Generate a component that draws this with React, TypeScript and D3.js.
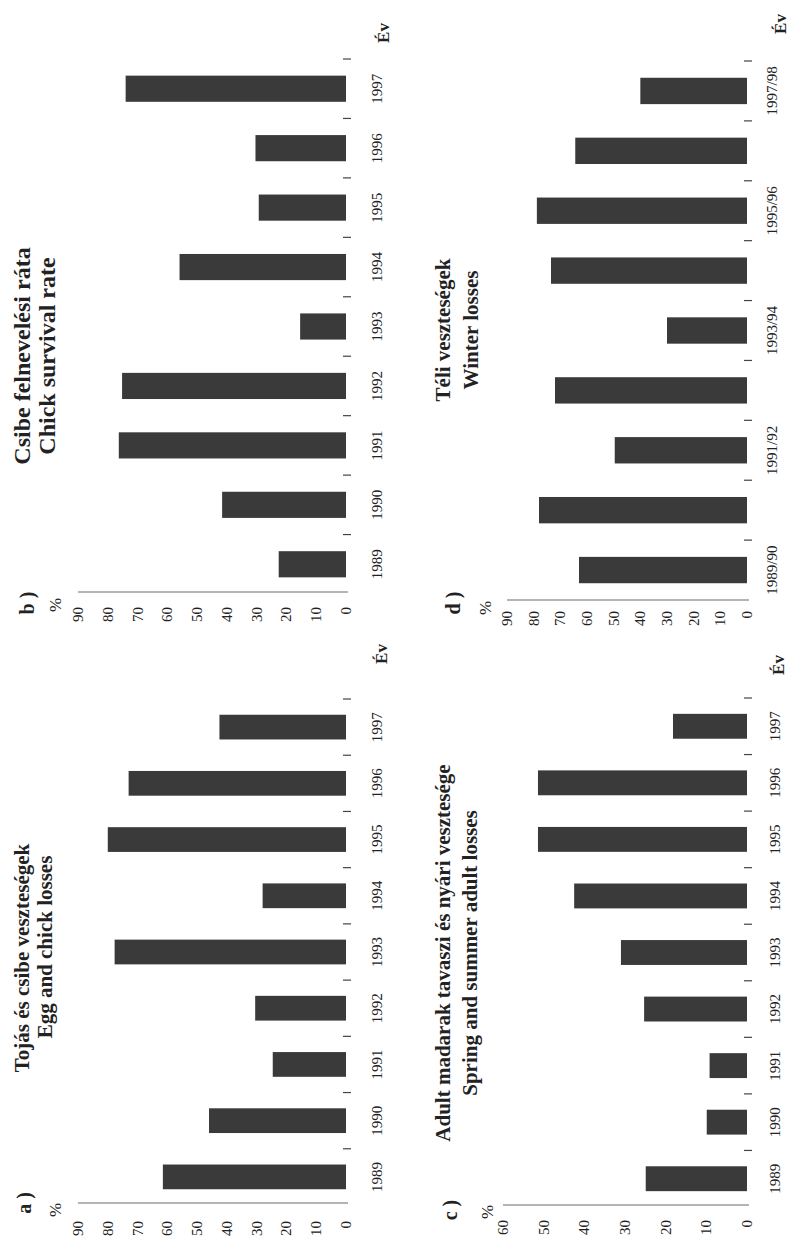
import React from 'react';
import * as d3 from 'd3';

const YEARS = ['1989', '1990', '1991', '1992', '1993', '1994', '1995', '1996', '1997'];
const WINTERS = ['1989/90', '1990/91', '1991/92', '1992/93', '1993/94', '1994/95', '1995/96', '1996/97', '1997/98'];
const WINTER_LABELS = ['1989/90', '', '1991/92', '', '1993/94', '', '1995/96', '', '1997/98'];

const EGG_CHICK_LOSSES = [61.5, 46, 24.6, 30.5, 77.7, 28, 80, 73, 42.5];
const CHICK_SURVIVAL = [22.6, 41.6, 76.3, 75.2, 15.4, 55.9, 29.3, 30.4, 74];
const ADULT_LOSSES = [24.9, 9.9, 9.2, 25.3, 31, 42.5, 51.4, 51.4, 18.2];
const WINTER_LOSSES = [63, 78, 49.6, 72, 30, 73.5, 78.8, 64.4, 40];

const TICKS_90 = [0, 10, 20, 30, 40, 50, 60, 70, 80, 90];
const TICKS_60 = [0, 10, 20, 30, 40, 50, 60];

const FONT = '"Liberation Serif", "Times New Roman", serif';

type PanelProps = {
  cats: string[];
  labels: string[];
  values: number[];
  ticks: number[];
  max: number;
  letter: string;
  title1: string;
  title2: string;
  L: {
    oy: number; W: number; zero: number; top: number;
    axisU: number; tickLabelU: number; yearV: number;
    evU: number; evV: number; letterU: number; letterV: number;
    pctU: number; pctV: number; titleU: number; t1V: number; t2V: number; titleSize: number; title2U?: number;
  };
};

function Panel({ cats, labels, values, ticks, max, letter, title1, title2, L }: PanelProps) {
  const x = d3.scaleBand<string>().domain(cats).range([0, L.W]).paddingInner(0.56).paddingOuter(0.28);
  const y = d3.scaleLinear().domain([0, max]).range([L.zero, L.top]);
  const step = x.step();
  const bw = x.bandwidth();
  return (
    <g transform={`translate(0,${L.oy}) rotate(-90)`} fontFamily={FONT}>
      <line x1={L.axisU} x2={L.axisU} y1={y(max)} y2={y(0) + 2} stroke="#6a6a6a" strokeWidth={1.1} />
      {ticks.map((t) => (
        <text key={t} x={L.tickLabelU} y={y(t)} textAnchor="end" dominantBaseline="central" fontSize={15} fill="#222">
          {t}
        </text>
      ))}
      {cats.map((c, i) => (
        <rect key={c} x={x(c)} width={bw} y={y(values[i])} height={y(0) - y(values[i])} fill="#3a3a3a" />
      ))}
      {cats.map((c) => {
        const u = (x(c) as number) + bw / 2 + step / 2;
        return <line key={'t' + c} x1={u} x2={u} y1={y(0) - 3} y2={y(0) + 5} stroke="#444" strokeWidth={1.2} />;
      })}
      {cats.map((c, i) => (
        <text key={'l' + c} x={(x(c) as number) + bw / 2} y={L.yearV} textAnchor="middle" dominantBaseline="central" fontSize={15} fill="#222">
          {labels[i]}
        </text>
      ))}
      <text x={L.evU} y={L.evV} textAnchor="middle" dominantBaseline="central" fontSize={17} fontWeight="bold" fill="#222">Év</text>
      <text x={L.letterU} y={L.letterV} textAnchor="middle" dominantBaseline="central" fontSize={20} fontWeight="bold" fill="#222">{letter}</text>
      <text x={L.pctU} y={L.pctV} textAnchor="middle" dominantBaseline="central" fontSize={17} fill="#222">%</text>
      <text x={L.titleU} y={L.t1V} textAnchor="middle" dominantBaseline="central" fontSize={L.titleSize} fontWeight="bold" fill="#222">{title1}</text>
      <text x={L.title2U ?? L.titleU} y={L.t2V} textAnchor="middle" dominantBaseline="central" fontSize={L.titleSize} fontWeight="bold" fill="#222">{title2}</text>
    </g>
  );
}

export default function App() {
  return (
    <div style={{ position: 'absolute', left: 0, top: 0, width: 789, height: 1239, background: '#fff' }}>
      <svg width={789} height={1239} viewBox="0 0 789 1239" style={{ display: 'block' }}>
        <rect width={789} height={1239} fill="#fff" />
        <Panel
          cats={YEARS} labels={YEARS} values={CHICK_SURVIVAL} ticks={TICKS_90} max={90}
          letter="b )" title1="Csibe felnevelési ráta" title2="Chick survival rate"
          L={{ oy: 594, W: 535, zero: 346, top: 78, axisU: 2, tickLabelU: -13, yearV: 377,
            evU: 561, evV: 383, letterU: -9, letterV: 27, pctU: -11, pctV: 55, titleU: 238, t1V: 22, t2V: 47, titleSize: 24 }}
        />
        <Panel
          cats={YEARS} labels={YEARS} values={EGG_CHICK_LOSSES} ticks={TICKS_90} max={90}
          letter="a )" title1="Tojás és csibe veszteségek" title2="Egg and chick losses"
          L={{ oy: 1205, W: 506, zero: 346, top: 78, axisU: 2, tickLabelU: -16, yearV: 377,
            evU: 551, evV: 381, letterU: 2, letterV: 24, pctU: -5, pctV: 55, titleU: 247, title2U: 258, t1V: 22, t2V: 45, titleSize: 21 }}
        />
        <Panel
          cats={WINTERS} labels={WINTER_LABELS} values={WINTER_LOSSES} ticks={TICKS_90} max={90}
          letter="d )" title1="Téli veszteségek" title2="Winter losses"
          L={{ oy: 600, W: 539, zero: 747, top: 507, axisU: 0, tickLabelU: -11, yearV: 772,
            evU: 576, evV: 780, letterU: -3, letterV: 453, pctU: -8, pctV: 485, titleU: 270, t1V: 443, t2V: 471, titleSize: 21 }}
        />
        <Panel
          cats={YEARS} labels={YEARS} values={ADULT_LOSSES} ticks={TICKS_60} max={60}
          letter="c )" title1="Adult madarak tavaszi és nyári vesztesége" title2="Spring and summer adult losses"
          L={{ oy: 1207, W: 509, zero: 747, top: 503, axisU: 2, tickLabelU: -13, yearV: 775,
            evU: 542, evV: 778, letterU: -3, letterV: 450, pctU: -5, pctV: 487, titleU: 254, t1V: 443, t2V: 470, titleSize: 21 }}
        />
      </svg>
    </div>
  );
}
